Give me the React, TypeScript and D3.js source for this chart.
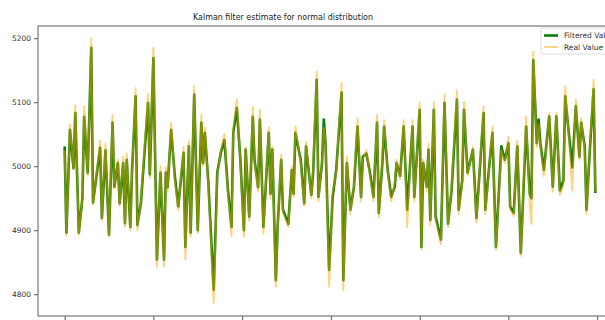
import React, { useEffect, useRef } from "react";
import * as d3 from "d3";

// time step of each sample
const steps = [
  0, 1, 3, 5, 6, 8, 10, 11, 13, 15, 16, 20, 21, 23, 25, 27, 28, 30, 31, 33,
  34, 35, 37, 38, 40, 41, 43, 47, 48, 50, 52, 54, 56, 57, 58, 60, 62, 64, 67, 68,
  70, 71, 73, 75, 77, 78, 79, 81, 84, 86, 88, 90, 92, 94, 95, 97, 99, 101, 102, 104,
  106, 107, 109, 110, 112, 115, 116, 117, 119, 120, 122, 123, 126, 128, 129, 130, 133, 135, 136, 139,
  140, 142, 143, 145, 146, 147, 149, 151, 153, 156, 157, 159, 161, 163, 165, 167, 168, 170, 172, 174,
  176, 177, 179, 180, 182, 184, 186, 187, 189, 191, 193, 196, 197, 200, 201, 202, 204, 205, 206, 208,
  209, 212, 214, 216, 218, 221, 222, 224, 225, 227, 230, 232, 234, 236, 237, 239, 241, 243, 246, 248,
  250, 251, 253, 255, 257, 260, 262, 263, 264, 266, 267, 268, 270, 273, 275, 277, 279, 281, 282, 284,
  286, 288, 290, 291, 293, 294, 296, 298, 299,
];

const filteredValues = [
  5031, 4896, 5057, 4997, 5083, 4896, 4950, 5077, 4990, 5185, 4943, 5029, 4919, 5025, 4893, 5068, 4968, 5005, 4942, 5005,
  4911, 5010, 4905, 4994, 5109, 4908, 4943, 5099, 4987, 5169, 4854, 4990, 4854, 4990, 4967, 5057, 4987, 4937, 5021, 4874,
  5031, 4896, 5112, 4900, 5068, 5005, 5052, 4973, 4807, 4990, 5021, 5041, 4963, 4905, 5052, 5091, 5010, 4900, 5026, 4921,
  5077, 5010, 4967, 5073, 4905, 5052, 4957, 5026, 4822, 4905, 5010, 4932, 4910, 4994, 4957, 5052, 5010, 4942, 5031, 4955,
  4990, 5135, 4952, 5005, 5073, 5036, 4838, 4952, 4994, 5115, 4822, 5005, 4932, 4968, 5062, 4952, 5015, 5020, 4990, 4952,
  5068, 4927, 5005, 5062, 4994, 4952, 4968, 5005, 4985, 5062, 4932, 5062, 4952, 5088, 4874, 5005, 4968, 5026, 4916, 5088,
  4921, 4885, 5099, 4910, 4963, 5104, 4932, 4978, 5088, 4990, 5026, 4919, 5000, 5083, 4932, 4994, 5052, 4874, 5031, 5010,
  5036, 4937, 4927, 5031, 4865, 5062, 4957, 4950, 5166, 5036, 5073, 5036, 4994, 5078, 4968, 5078, 4962, 4978, 5109, 5052,
  4998, 5094, 5015, 5068, 5031, 4932, 5031, 5120, 4958,
];

const realValues = [
  5025, 4891, 5065, 4995, 5095, 4893, 4950, 5093, 4985, 5200, 4940, 5040, 4915, 5035, 4890, 5080, 4965, 5010, 4938, 5015,
  4905, 5020, 4900, 4990, 5122, 4900, 4945, 5113, 4982, 5185, 4843, 5000, 4843, 4998, 4960, 5068, 4980, 4932, 5030, 4854,
  5040, 4890, 5125, 4895, 5080, 5000, 5060, 4968, 4786, 4985, 5025, 5050, 4958, 4891, 5060, 5104, 5005, 4890, 5030, 4915,
  5093, 5005, 4960, 5088, 4895, 5060, 4950, 5030, 4812, 4900, 5018, 4928, 4905, 5000, 4952, 5062, 5005, 4938, 5038, 4950,
  4995, 5148, 4945, 5010, 5060, 5040, 4812, 4960, 4990, 5130, 4806, 5015, 4925, 4972, 5075, 4945, 5010, 5025, 4985, 4945,
  5080, 4920, 5010, 5072, 4990, 4945, 4975, 5010, 4980, 5072, 4905, 5072, 4945, 5100, 4870, 5010, 4960, 5035, 4908, 5100,
  4915, 4878, 5112, 4905, 4968, 5118, 4925, 4975, 5100, 4985, 5030, 4912, 5005, 5093, 4925, 4990, 5062, 4870, 5025, 5005,
  5046, 4932, 4922, 5040, 4860, 5078, 4940, 4910, 5179, 5030, 5065, 5030, 4985, 5083, 4960, 5083, 4955, 4970, 5125, 5045,
  4962, 5104, 5010, 5075, 5025, 4925, 5035, 5135, 4960,
];

const yTickValues = [4800, 4900, 5000, 5100, 5200];
const xTickValues = [0, 50, 100, 150, 200, 250, 300];
const legendLabels = ["Filtered Value", "Real Value"];
const titleText = "Kalman filter estimate for normal distribution";

const W = 605;
const H = 320;

export default function App() {
  const svgRef = useRef<SVGSVGElement>(null);

  useEffect(() => {
    const svg = d3.select(svgRef.current);
    svg.selectAll("*").remove();

    const left = 38, top = 26, bottom = 316, right = 622;

    const x = d3.scaleLinear().domain([-15, 314]).range([left, right]);
    const y = d3.scaleLinear().domain([4766, 5219]).range([bottom, top]);

    const filtered = steps.map((s, i) => ({ s, v: filteredValues[i] }));
    const real = steps.map((s, i) => ({ s, v: realValues[i] }));

    const line = d3
      .line<{ s: number; v: number }>()
      .x((d) => x(d.s))
      .y((d) => y(d.v));

    svg.append("rect").attr("width", W).attr("height", H).attr("fill", "#fff");

    // title
    svg
      .append("text")
      .attr("x", 283)
      .attr("y", 20)
      .attr("text-anchor", "middle")
      .attr("font-family", "DejaVu Sans, sans-serif")
      .attr("font-size", 9.5)
      .attr("fill", "#222")
      .attr("textLength", 180)
      .attr("lengthAdjust", "spacingAndGlyphs")
      .text(titleText);

    // y axis
    const yAxis = svg
      .append("g")
      .attr("transform", "translate(" + left + ",0)")
      .call(d3.axisLeft(y).tickValues(yTickValues).tickSize(4).tickPadding(3).tickFormat(d3.format("d")));
    yAxis.select(".domain").remove();
    yAxis.selectAll("line").attr("stroke", "#555");
    yAxis
      .selectAll("text")
      .attr("font-family", "DejaVu Sans, sans-serif")
      .attr("font-size", 7.5)
      .attr("fill", "#333");

    // x axis (labels cropped off)
    const xAxis = svg
      .append("g")
      .attr("transform", "translate(0," + bottom + ")")
      .call(d3.axisBottom(x).tickValues(xTickValues).tickSize(4).tickFormat(() => ""));
    xAxis.select(".domain").remove();
    xAxis.selectAll("line").attr("stroke", "#555");

    // series
    svg
      .append("path")
      .datum(filtered)
      .attr("d", line)
      .attr("fill", "none")
      .attr("stroke", "#0a7d0a")
      .attr("stroke-width", 2.6)
      .attr("stroke-linejoin", "round");

    svg
      .append("path")
      .datum(real)
      .attr("d", line)
      .attr("fill", "none")
      .attr("stroke", "#ffa500")
      .attr("stroke-opacity", 0.5)
      .attr("stroke-width", 1.9)
      .attr("stroke-linejoin", "round");

    // frame
    svg
      .append("rect")
      .attr("x", left)
      .attr("y", top)
      .attr("width", right - left)
      .attr("height", bottom - top)
      .attr("fill", "none")
      .attr("stroke", "#777")
      .attr("stroke-width", 1.2);

    // legend
    const lg = svg.append("g").attr("transform", "translate(541,28)");
    lg.append("rect")
      .attr("width", 80)
      .attr("height", 26)
      .attr("rx", 2)
      .attr("fill", "#fff")
      .attr("fill-opacity", 0.8)
      .attr("stroke", "#ddd");
    lg.append("line")
      .attr("x1", 3).attr("x2", 17).attr("y1", 7.5).attr("y2", 7.5)
      .attr("stroke", "#0a7d0a").attr("stroke-width", 2.6);
    lg.append("line")
      .attr("x1", 3).attr("x2", 17).attr("y1", 19).attr("y2", 19)
      .attr("stroke", "#ffa500").attr("stroke-opacity", 0.5).attr("stroke-width", 1.9);
    legendLabels.forEach((t, i) => {
      lg.append("text")
        .attr("x", 23)
        .attr("y", 10 + i * 11.5)
        .attr("font-family", "DejaVu Sans, sans-serif")
        .attr("font-size", 7.5)
        .attr("fill", "#333")
        .text(t);
    });
  }, []);

  return (
    <svg
      ref={svgRef}
      width={W}
      height={H}
      style={{ position: "absolute", left: 0, top: 0 }}
    />
  );
}
